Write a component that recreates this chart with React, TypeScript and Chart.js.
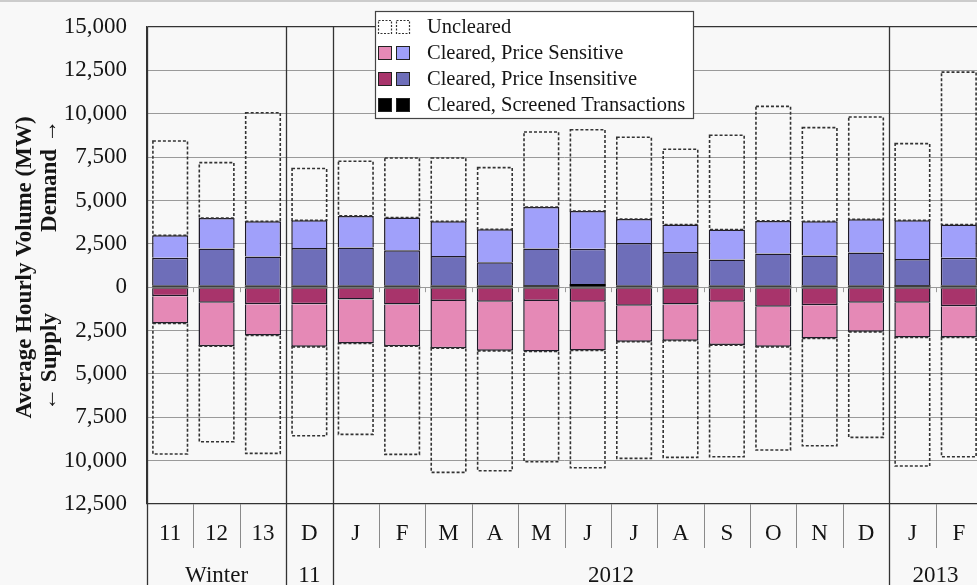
import React, { useEffect, useRef } from 'react';
import { Chart, registerables } from 'chart.js';

Chart.register(...registerables);

// ---------- data ----------
const categories = ['11', '12', '13', 'D', 'J', 'F', 'M', 'A', 'M', 'J', 'J', 'A', 'S', 'O', 'N', 'D', 'J', 'F'];
const groupLabels = ['Winter', '11', '2012', '2013'];
const groupSizes = [3, 1, 12, 2];

// Demand side (positive, MW)
const demandScreened = [90, 90, 90, 90, 90, 90, 90, 90, 110, 180, 90, 90, 90, 90, 90, 100, 110, 90];
const demandInsensitive = [1600, 2140, 1680, 2175, 2195, 2040, 1710, 1350, 2120, 2030, 2460, 1945, 1505, 1850, 1735, 1900, 1520, 1600];
const demandSensitive = [1305, 1760, 2030, 1595, 1825, 1885, 2000, 1900, 2395, 2185, 1385, 1575, 1725, 1880, 1975, 1915, 2230, 1920];
const demandUncleared = [5435, 3190, 6260, 2980, 3150, 3435, 3650, 3550, 4325, 4685, 4705, 4340, 5435, 6605, 5400, 5895, 4415, 8790];

// Supply side (negative, MW)
const supplyScreened = [-70, -70, -70, -70, -70, -70, -70, -70, -70, -70, -70, -70, -70, -70, -70, -70, -70, -70];
const supplyInsensitive = [-448, -830, -910, -910, -640, -930, -720, -775, -720, -775, -1005, -930, -775, -1065, -965, -830, -830, -1025];
const supplySensitive = [-1572, -2500, -1805, -2460, -2535, -2400, -2725, -2825, -2915, -2805, -2075, -2090, -2495, -2305, -1920, -1675, -2000, -1805];
const supplyUncleared = [-7530, -5510, -6795, -5125, -5240, -6240, -7160, -6910, -6355, -6760, -6720, -6720, -6435, -5950, -6185, -6085, -7410, -6875];

const legendLabels = ['Uncleared', 'Cleared, Price Sensitive', 'Cleared, Price Insensitive', 'Cleared, Screened Transactions'];
const yTitle = 'Average Hourly Volume (MW)';
const yDemand = 'Demand \u2192';
const ySupply = '\u2190 Supply';

// ---------- styles ----------
const SERIF = '"Liberation Serif", "Times New Roman", Times, serif';
const BG = '#f8f8f8';
const C_D_PS = '#a0a0fa';
const C_D_PI = '#6e6eb9';
const C_S_PS = '#e589b6';
const C_S_PI = '#a8346b';
const C_SCR = '#000000';
const C_EDGE = '#1e1a28';

export default function App() {
  const ref = useRef<HTMLCanvasElement>(null);

  useEffect(() => {
    document.body.style.margin = '0';
    const canvas = ref.current;
    if (!canvas) return;

    const dashedSets = new Set<number>([6, 7]);

    const bgPlugin = {
      id: 'bgPlugin',
      beforeDraw(chart: any) {
        const c = chart.ctx;
        c.save();
        c.fillStyle = BG;
        c.fillRect(0, 0, chart.width, chart.height);
        c.fillStyle = '#cccccc';
        c.fillRect(0, 0, chart.width, 2);
        c.restore();
      },
    };

    const dashPlugin = {
      id: 'dashPlugin',
      afterDatasetsDraw(chart: any) {
        const c = chart.ctx;
        c.save();
        c.strokeStyle = '#333';
        c.lineWidth = 1.6;
        c.setLineDash([3, 2]);
        dashedSets.forEach((di) => {
          const meta = chart.getDatasetMeta(di);
          meta.data.forEach((bar: any) => {
            const p = bar.getProps(['x', 'y', 'base', 'width'], true);
            const left = p.x - p.width / 2;
            const top = Math.min(p.y, p.base);
            const h = Math.abs(p.base - p.y);
            c.strokeRect(left + 0.8, top, p.width - 1.6, h);
          });
        });
        c.restore();
      },
    };

    const annotPlugin = {
      id: 'annotPlugin',
      afterDraw(chart: any) {
        const c = chart.ctx;
        const area = chart.chartArea;
        const xs = chart.scales.x;
        const ys = chart.scales.y;
        const n = categories.length;
        const w = (area.right - area.left) / n;
        const H = chart.height;
        const y0 = ys.getPixelForValue(0);
        c.save();

        // zero-line small ticks
        c.strokeStyle = '#9a9a9a';
        c.lineWidth = 1;
        for (let i = 1; i < n; i++) {
          const x = Math.round(area.left + i * w) + 0.5;
          c.beginPath();
          c.moveTo(x, y0);
          c.lineTo(x, y0 + 5);
          c.stroke();
        }

        // category separators in label row
        c.strokeStyle = '#8a8a8a';
        for (let i = 1; i < n; i++) {
          const x = Math.round(area.left + i * w) + 0.5;
          c.beginPath();
          c.moveTo(x, area.bottom);
          c.lineTo(x, area.bottom + 44);
          c.stroke();
        }

        // group separators (full height)
        c.strokeStyle = '#333';
        c.lineWidth = 1.3;
        let cum = 0;
        const bounds = [0];
        groupSizes.forEach((s) => { cum += s; bounds.push(cum); });
        bounds.forEach((b) => {
          const x = Math.round(area.left + b * w) + 0.5;
          c.beginPath();
          c.moveTo(x, area.top);
          c.lineTo(x, H);
          c.stroke();
        });

        // category labels
        c.fillStyle = '#151515';
        c.font = `23px ${SERIF}`;
        c.textAlign = 'center';
        c.textBaseline = 'middle';
        categories.forEach((lab, i) => {
          c.fillText(lab, xs.getPixelForValue(i), area.bottom + 30);
        });
        // group labels
        let start = 0;
        groupLabels.forEach((g, gi) => {
          const end = start + groupSizes[gi];
          const cx = area.left + ((start + end) / 2) * w;
          c.fillText(g, cx, area.bottom + 72);
          start = end;
        });

        // y title
        c.font = `bold 23px ${SERIF}`;
        c.save();
        c.translate(25, (area.top + area.bottom) / 2 + 2);
        c.rotate(-Math.PI / 2);
        c.fillText(yTitle, 0, 0);
        c.restore();
        c.save();
        c.translate(50, 176);
        c.rotate(-Math.PI / 2);
        c.fillText(yDemand, 0, 0);
        c.restore();
        c.save();
        c.translate(50, 362);
        c.rotate(-Math.PI / 2);
        c.fillText(ySupply, 0, 0);
        c.restore();

        // legend
        const lx = 375, ly = 11, lw = 318, lh = 107;
        c.fillStyle = '#ffffff';
        c.fillRect(lx, ly, lw, lh);
        c.strokeStyle = '#444';
        c.lineWidth = 1.2;
        c.strokeRect(lx + 0.5, ly + 0.5, lw, lh);
        const rowY = [27, 53, 79, 105];
        const swatches: [string, string][] = [
          ['', ''],
          [C_S_PS, C_D_PS],
          [C_S_PI, C_D_PI],
          [C_SCR, C_SCR],
        ];
        c.font = `20.5px ${SERIF}`;
        c.textAlign = 'left';
        legendLabels.forEach((lab, i) => {
          const cy = rowY[i];
          [378, 396].forEach((sx, k) => {
            if (i === 0) {
              c.save();
              c.fillStyle = '#ffffff';
              c.fillRect(sx, cy - 7, 14, 14);
              c.setLineDash([2, 1.5]);
              c.strokeStyle = '#333';
              c.lineWidth = 1.2;
              c.strokeRect(sx + 0.5, cy - 6.5, 13, 13);
              c.restore();
            } else {
              c.fillStyle = swatches[i][k];
              c.fillRect(sx, cy - 7, 14, 14);
              c.strokeStyle = '#222';
              c.lineWidth = 1;
              c.strokeRect(sx + 0.5, cy - 6.5, 13, 13);
            }
          });
          c.fillStyle = '#151515';
          c.fillText(lab, 427, cy + 1);
        });

        c.restore();
      },
    };

    const common = { borderWidth: 1.5, borderColor: C_EDGE, barPercentage: 0.78, categoryPercentage: 1, stack: 's' };
    const isEdge = (ctx: any) => ctx.tick && (ctx.tick.value === 15000 || ctx.tick.value === -12500);

    const chart = new Chart(canvas, {
      type: 'bar',
      data: {
        labels: categories,
        datasets: [
          { ...common, label: 'Demand Screened', data: demandScreened, backgroundColor: C_SCR, borderWidth: 0 },
          { ...common, label: 'Supply Screened', data: supplyScreened, backgroundColor: C_SCR, borderWidth: 0 },
          { ...common, label: 'Demand Price Insensitive', data: demandInsensitive, backgroundColor: C_D_PI },
          { ...common, label: 'Supply Price Insensitive', data: supplyInsensitive, backgroundColor: C_S_PI },
          { ...common, label: 'Demand Price Sensitive', data: demandSensitive, backgroundColor: C_D_PS },
          { ...common, label: 'Supply Price Sensitive', data: supplySensitive, backgroundColor: C_S_PS },
          { ...common, label: 'Demand Uncleared', data: demandUncleared, backgroundColor: 'rgba(0,0,0,0)', borderWidth: 0 },
          { ...common, label: 'Supply Uncleared', data: supplyUncleared, backgroundColor: 'rgba(0,0,0,0)', borderWidth: 0 },
        ],
      },
      options: {
        responsive: false,
        animation: false,
        devicePixelRatio: 1,
        layout: { padding: { top: 27, bottom: 81, left: 0, right: 0 } },
        plugins: { legend: { display: false }, tooltip: { enabled: false } },
        scales: {
          x: { display: false, stacked: true },
          y: {
            stacked: true,
            min: -12500,
            max: 15000,
            afterFit: (scale: any) => { scale.width = 147; },
            ticks: {
              stepSize: 2500,
              autoSkip: false,
              padding: 6,
              color: '#151515',
              font: { family: SERIF, size: 23 },
              callback: (v: any) => Math.abs(Number(v)).toLocaleString('en-US'),
            },
            grid: {
              drawTicks: true,
              tickLength: 14,
              tickColor: 'rgba(0,0,0,0)',
              color: (ctx: any) => (isEdge(ctx) ? '#333' : '#9a9a9a'),
              lineWidth: (ctx: any) => (isEdge(ctx) ? 1.3 : 1),
            },
            border: { display: true, color: '#333', width: 1.3 },
          },
        },
      },
      plugins: [bgPlugin, dashPlugin, annotPlugin],
    });

    return () => chart.destroy();
  }, []);

  return (
    <div style={{ width: 977, height: 585, overflow: 'hidden', position: 'relative' }}>
      <canvas ref={ref} width={982} height={585} style={{ display: 'block' }} />
    </div>
  );
}
